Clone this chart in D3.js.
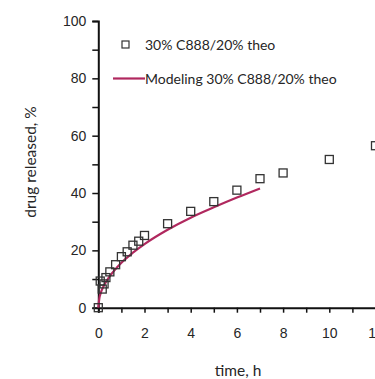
<!DOCTYPE html>
<html>
<head>
<meta charset="utf-8">
<script src="https://cdn.jsdelivr.net/npm/d3@7"></script>
<style>
  body { margin: 0; background: #fff; }
  svg { display: block; font-family: Lato, "Open Sans", sans-serif; }
  .axis path, .axis line { stroke: #111; }
  .axis text { fill: #262626; font-size: 14px; }
</style>
</head>
<body>
<div id="chart"></div>
<script>
var width = 375,
    height = 379;

// measured release (squares)
var timeObs = [0, 0.083, 0.17, 0.25, 0.33, 0.5, 0.75, 1, 1.25, 1.5, 1.75, 2, 3, 4, 5, 6, 7, 8, 10, 12];
var releaseObs = [0, 9.3, 6.5, 8.3, 10.5, 12.5, 15, 17.8, 19.5, 21.8, 23.2, 25.2, 29.3, 33.6, 37, 41, 45, 47, 51.7, 56.5];

// model curve
var timeModel = [0, 0.05, 0.1, 0.25, 0.5, 1, 1.5, 2, 3, 4, 5, 6, 7];
var releaseModel = [0, 3.5, 5, 7.8, 11, 15.7, 19.2, 22.2, 27.2, 31.4, 35, 38.4, 41.6];

var xTicks = [0, 1, 2, 3, 4, 5, 6, 7, 8, 9, 10, 11, 12, 13, 14];
var yTicks = [0, 10, 20, 30, 40, 50, 60, 70, 80, 90, 100];

var legendLabels = ["30% C888/20% theo", "Modeling 30% C888/20% theo"];
var lineColor = "#b0285e";

var svg = d3.select("#chart")
  .append("svg")
  .attr("width", width)
  .attr("height", height);

var x = d3.scaleLinear().domain([0, 14]).range([98.3, 98.3 + 14 * 23.1]);
var y = d3.scaleLinear().domain([0, 100]).range([307.7, 21]);

var xAxis = d3.axisBottom(x)
  .tickValues(xTicks)
  .tickSize(5)
  .tickPadding(15)
  .tickFormat(function(d) { return d % 2 === 0 ? d : ""; });

var yAxis = d3.axisLeft(y)
  .tickValues(yTicks)
  .tickSize(6)
  .tickPadding(6)
  .tickFormat(function(d) { return d % 20 === 0 ? d : ""; });

svg.append("g")
  .attr("class", "axis")
  .attr("transform", "translate(0," + y(0) + ")")
  .call(xAxis)
  .call(function(g) {
    g.select(".domain").attr("stroke-width", 2);
    g.selectAll(".tick line").attr("stroke-width", 1.5);
  });

svg.append("g")
  .attr("class", "axis")
  .attr("transform", "translate(" + x(0) + ",0)")
  .call(yAxis)
  .call(function(g) {
    g.select(".domain").attr("stroke-width", 2);
    g.selectAll(".tick line").attr("stroke-width", 1.5);
  });

// model line
var line = d3.line()
  .x(function(d, i) { return x(timeModel[i]); })
  .y(function(d) { return y(d); })
  .curve(d3.curveMonotoneX);

svg.append("path")
  .attr("d", line(releaseModel))
  .attr("fill", "none")
  .attr("stroke", lineColor)
  .attr("stroke-width", 2.2);

// observed points
var sq = 8;
svg.selectAll(".pt")
  .data(releaseObs)
  .enter().append("rect")
    .attr("class", "pt")
    .attr("x", function(d, i) { return x(timeObs[i]) - sq / 2; })
    .attr("y", function(d) { return y(d) - sq / 2; })
    .attr("width", sq)
    .attr("height", sq)
    .attr("fill", "none")
    .attr("stroke", "#333")
    .attr("stroke-width", 1.3);

// legend
svg.append("rect")
  .attr("x", 122).attr("y", 41)
  .attr("width", 7).attr("height", 7)
  .attr("fill", "none").attr("stroke", "#333").attr("stroke-width", 1.2);
svg.append("text")
  .attr("x", 145).attr("y", 50)
  .attr("font-size", 14).attr("fill", "#262626")
  .text(legendLabels[0]);

svg.append("line")
  .attr("x1", 113).attr("x2", 145)
  .attr("y1", 78.5).attr("y2", 78.5)
  .attr("stroke", lineColor).attr("stroke-width", 2.2);
svg.append("text")
  .attr("x", 145).attr("y", 84)
  .attr("font-size", 14).attr("fill", "#262626")
  .text(legendLabels[1]);

// axis titles
svg.append("text")
  .attr("transform", "translate(36,162) rotate(-90)")
  .attr("text-anchor", "middle")
  .attr("font-size", 15.5).attr("fill", "#262626")
  .text("drug released, %");

svg.append("text")
  .attr("x", 238).attr("y", 376)
  .attr("text-anchor", "middle")
  .attr("font-size", 15.5).attr("fill", "#262626")
  .text("time, h");
</script>
</body>
</html>
